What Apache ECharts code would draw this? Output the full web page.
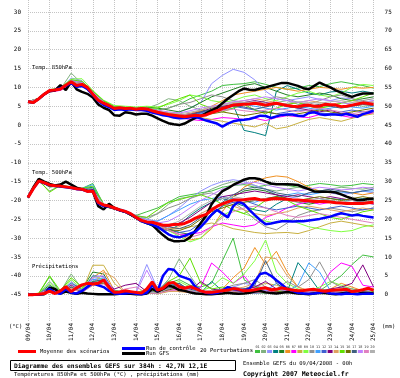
<!DOCTYPE html>
<html>
<head>
<meta charset="utf-8">
<script src="https://cdn.jsdelivr.net/npm/echarts@6/dist/echarts.min.js"></script>
<style>
  html, body { margin: 0; padding: 0; background: #fff; }
  #chart { width: 400px; height: 378px; }
</style>
</head>
<body>
<div id="chart"></div>
<script>
// --- axes / labels ---
var dayLabels = ['09/04','10/04','11/04','12/04','13/04','14/04','15/04','16/04','17/04',
  '18/04','19/04','20/04','21/04','22/04','23/04','24/04','25/04'];
var tempTicks = [30,25,20,15,10,5,0,-5,-10,-15,-20,-25,-30,-35,-40,-45];
var precTicks = [75,70,65,60,55,50,45,40,35,30,25,20,15,10,5,0];

// --- thick lines, 6h steps (°C / mm) ---
var t850Mean = [6.2,6.0,7.0,8.2,9.2,9.3,9.6,10.6,11.5,10.5,
  10.8,10.0,8.2,6.6,5.8,5.2,4.4,4.6,4.4,4.5,
  4.2,4.4,4.3,3.8,3.4,3.1,2.8,2.6,2.4,2.2,
  2.4,2.6,2.5,2.7,3.3,3.8,4.4,4.8,5.3,5.4,
  5.5,5.6,5.8,5.6,5.3,5.6,5.8,5.5,5.2,5.0,
  4.9,5.2,5.3,5.0,5.0,5.5,5.4,5.3,4.9,5.0,
  5.3,5.6,5.9,5.7,5.5];
var t850Ctrl = [6.2,6.0,7.0,8.2,9.1,9.3,9.8,10.4,11.2,10.2,
  10.4,9.6,8.0,6.4,5.4,4.8,4.0,4.2,4.0,4.2,
  4.0,4.0,3.8,3.3,3.0,2.6,2.4,2.0,1.8,1.9,
  2.1,2.2,1.7,1.2,0.8,0.4,-0.4,0.4,1.0,1.3,
  1.4,1.6,2.0,2.5,2.4,1.9,2.3,2.7,2.8,2.8,
  2.5,2.4,3.2,3.4,2.9,2.7,2.8,2.8,2.7,3.0,
  2.6,2.2,2.9,3.3,3.9];
var t850Gfs = [6.2,6.0,7.0,8.2,9.0,9.2,10.6,9.3,11.5,9.5,
  8.8,8.3,7.3,5.5,4.6,4.0,2.6,2.5,3.4,3.2,
  2.8,3.0,3.0,2.5,1.8,1.1,0.5,0.2,0.0,0.4,
  1.2,1.9,2.4,3.2,3.9,4.6,5.8,7.0,8.0,9.0,
  9.7,9.4,9.3,9.7,10.0,10.4,10.8,11.2,11.2,10.8,
  10.4,9.8,9.5,10.4,11.3,10.6,10.0,9.2,8.6,8.0,
  7.5,8.0,8.4,8.4,8.4];

var t500Mean = [-19.2,-16.8,-14.8,-15.3,-15.9,-16.1,-16.2,-16.4,-16.6,-16.9,
  -17.0,-17.6,-17.5,-20.5,-21.2,-21.5,-22.0,-22.5,-22.9,-23.5,
  -24.5,-25.3,-25.7,-25.8,-26.2,-26.6,-26.6,-26.4,-26.3,-26.1,
  -25.5,-24.7,-24.2,-23.7,-22.5,-21.6,-20.9,-20.4,-19.9,-19.9,
  -19.8,-19.6,-19.5,-19.8,-19.9,-19.6,-19.5,-19.6,-19.7,-19.9,
  -19.9,-20.0,-20.1,-20.3,-20.3,-20.3,-20.4,-20.6,-20.7,-20.8,
  -20.8,-20.8,-20.8,-20.6,-20.5];
var t500Ctrl = [-19.2,-16.8,-14.9,-15.4,-16.0,-16.2,-16.3,-16.5,-16.7,-17.0,
  -17.1,-17.6,-17.3,-20.8,-21.5,-21.6,-22.1,-22.6,-23.0,-23.6,
  -24.6,-25.5,-26.0,-26.4,-27.0,-28.0,-29.0,-29.6,-29.8,-29.4,
  -28.8,-28.3,-27.0,-25.5,-23.8,-22.5,-23.5,-24.5,-21.5,-20.3,
  -21.0,-22.5,-23.9,-25.2,-26.3,-26.1,-25.8,-25.5,-25.5,-25.6,
  -25.5,-25.5,-25.3,-25.1,-24.9,-24.6,-24.3,-23.8,-23.4,-23.7,
  -24.0,-23.8,-24.1,-24.3,-24.5];
var t500Gfs = [-19.2,-16.5,-14.3,-15.0,-15.6,-16.0,-15.8,-15.0,-15.8,-16.6,
  -17.1,-17.4,-17.6,-21.5,-22.4,-20.9,-22.0,-22.6,-23.0,-23.7,
  -24.6,-25.5,-26.0,-26.5,-27.9,-29.2,-30.3,-30.8,-30.8,-30.7,
  -29.8,-28.0,-26.0,-24.0,-21.0,-19.0,-17.5,-16.8,-15.9,-15.2,
  -14.5,-14.1,-14.1,-14.4,-15.0,-15.5,-15.7,-15.7,-15.7,-15.8,
  -15.9,-16.5,-17.0,-17.6,-17.7,-17.7,-17.7,-17.9,-18.4,-19.0,
  -19.5,-19.9,-19.9,-19.6,-19.5];

var precMean = [0,0,0.1,0.3,0.9,0.3,1.0,2.1,0.8,1.8,
  2.6,3.0,2.8,3.0,3.9,1.9,0.6,0.7,1.0,0.8,
  0.6,0.4,1.5,3.4,1.2,1.7,3.0,3.2,2.1,1.7,
  2.1,1.6,1.0,0.6,0.6,0.8,1.0,1.2,1.6,1.4,
  1.0,1.1,1.3,1.6,1.8,1.3,1.4,1.8,1.5,1.2,
  1.0,1.1,1.3,1.4,1.1,0.9,1.1,1.2,1.3,1.4,
  0.8,1.0,1.3,1.7,1.1];
var precCtrl = [0,0,0,0.2,1.5,0.5,0.2,1.5,0.5,0.3,
  1.0,2.0,3.0,2.5,2.0,1.0,0.3,0.2,0.3,0.5,
  0.2,0.1,0.5,2.5,1.0,5.0,6.8,6.6,5.0,4.5,
  4.0,2.0,1.0,0.5,0.3,0.4,1.0,2.0,1.5,1.2,
  1.0,1.5,3.5,5.5,5.8,5.0,3.8,2.7,1.5,1.0,
  0.5,0.3,0.2,0.3,0.5,0.8,0.3,0.2,0.1,0.3,
  0.2,0.1,0.2,0.3,0.2];
var precGfs = [0,0,0,0.1,1.8,1.5,0.3,0.8,0.5,0.2,
  0.5,0.3,0.2,0.1,0.1,0.1,0.1,0.2,0.3,0.2,
  0.1,0.1,0.3,1.5,0.8,1.5,2.5,2.0,1.2,1.0,
  0.6,0.3,0.2,0.1,0.1,0.2,0.3,0.5,0.3,0.2,
  0.3,0.5,0.8,1.0,0.6,0.4,0.3,0.5,0.7,0.5,
  0.3,0.2,0.1,0.3,0.5,0.4,0.2,0.1,0.3,0.5,
  0.3,0.2,0.5,0.4,0.3];

// --- 20 perturbations, 12h steps ---
var pertColors = ['#40c040','#80b080','#9090ff','#008080','#208020','#f09020','#ff00ff','#c8b040','#80ff40','#909090',
  '#40a0ff','#4060d0','#800080','#e0a060','#60e000','#707000','#406080','#c080ff','#e080c0','#b0b0b0'];

var t850Perts = [
  [6.2,7.1,9.3,9.8,12.0,11.5,9.0,6.5, 5.0,4.8,4.5,4.6,4.0,4.5,5.5,7.0, 8.0,9.0,10.5,10.8,11.0,11.5,10.8,10.0, 9.5,9.8,10.5,10.2,11.0,11.5,11.0,10.5,9.8],
  [6.2,7.0,9.0,9.5,13.8,11.0,8.5,6.0, 4.6,4.2,4.0,4.5,5.5,7.0,6.5,5.0, 4.0,3.5,4.5,5.8,6.0,5.5,5.0,6.0, 6.5,5.5,5.0,4.5,5.2,6.0,5.5,5.0,5.3],
  [6.2,7.0,9.2,9.4,12.5,11.8,8.8,6.2, 4.5,4.5,4.3,4.0,3.2,2.8,3.5,4.5, 6.0,11.0,13.2,14.8,14.0,12.0,9.0,7.0, 6.5,7.0,7.5,6.8,6.5,7.2,7.0,6.0,6.5],
  [6.2,7.0,9.1,9.5,11.0,10.5,8.0,5.5, 4.0,4.2,4.0,4.0,3.0,2.5,2.0,2.5, 3.5,4.0,5.0,5.3,-1.4,-2.0,-2.8,9.0, 10.5,9.5,8.5,8.0,8.8,9.0,8.5,9.0,8.5],
  [6.2,7.0,9.3,9.7,11.8,11.2,8.5,6.0, 4.8,4.5,4.5,4.8,4.5,4.0,3.5,4.5, 6.0,7.5,8.5,9.5,10.5,11.0,10.0,9.0, 8.0,7.5,8.0,8.5,8.0,7.0,6.5,7.0,7.5],
  [6.2,7.0,9.0,9.4,11.2,10.8,8.2,5.6, 4.2,4.3,4.4,4.2,3.5,3.0,2.6,3.0, 3.8,5.0,6.5,8.0,8.5,9.0,9.5,10.0, 9.5,9.0,9.5,10.0,9.8,9.5,10.0,9.8,10.0],
  [6.2,6.9,8.8,9.2,10.8,10.5,8.0,5.4, 4.0,4.2,4.0,4.0,3.2,2.5,2.0,1.5, 1.2,1.5,2.0,1.8,1.5,1.8,1.2,2.0, 2.5,2.2,2.0,2.8,3.0,2.5,2.0,2.8,3.2],
  [6.2,7.0,9.2,9.5,11.5,11.0,8.4,5.9, 4.4,4.4,4.2,4.3,3.6,3.2,2.8,2.5, 2.0,1.5,1.0,0.5,0.0,-0.5,0.5,-1.0, -0.5,0.5,1.5,2.0,1.5,1.0,1.8,2.5,3.0],
  [6.2,7.1,9.4,9.9,12.2,12.3,9.2,6.6, 5.2,5.0,4.8,5.0,4.8,5.5,6.5,8.0, 7.5,6.5,6.0,6.5,7.5,8.0,7.0,6.5, 7.5,8.5,9.0,8.0,7.5,8.5,10.0,10.8,10.5],
  [6.2,7.0,9.1,9.6,11.3,10.9,8.3,5.8, 4.3,4.4,4.3,4.4,3.8,4.5,5.5,6.0, 7.0,8.0,7.5,6.5,6.0,5.5,6.5,7.5, 7.0,6.0,5.5,6.5,7.5,8.0,7.0,6.5,7.0],
  [6.2,7.0,9.2,9.6,11.6,11.0,8.3,5.8, 4.5,4.4,4.2,4.2,3.5,3.0,2.5,2.8, 3.0,3.5,4.0,4.5,5.5,5.0,4.5,4.0, 4.5,5.0,4.5,4.0,4.5,5.0,4.8,4.5,5.0],
  [6.2,7.0,9.3,9.6,11.4,10.8,8.1,5.6, 4.2,4.3,4.1,4.2,3.3,2.8,2.2,2.5, 3.2,4.0,4.5,5.0,4.5,4.0,3.5,3.0, 3.5,4.0,3.8,3.2,3.0,3.5,4.0,3.5,3.8],
  [6.2,7.0,9.2,9.5,11.6,11.1,8.5,6.0, 4.6,4.5,4.3,4.4,3.6,3.0,2.6,3.0, 3.5,4.5,5.0,5.5,6.0,6.5,6.0,5.5, 5.0,4.5,4.0,3.5,4.0,3.0,2.5,3.0,3.5],
  [6.2,7.0,9.1,9.5,11.4,10.9,8.2,5.7, 4.3,4.4,4.2,4.3,3.5,3.0,2.5,3.0, 4.0,4.8,5.5,6.0,6.5,7.0,6.5,6.0, 5.5,6.0,6.5,6.0,5.5,6.0,6.5,6.0,6.2],
  [6.2,7.1,9.3,9.8,12.0,11.6,9.0,6.4, 4.8,4.6,4.4,4.5,4.5,5.8,7.0,8.0, 5.5,4.5,3.5,4.5,5.5,4.0,3.0,4.5, 5.5,6.0,5.0,4.5,5.0,5.8,6.5,7.5,8.5],
  [6.2,7.0,9.2,9.5,11.5,11.0,8.4,5.8, 4.4,4.3,4.1,4.1,3.4,2.9,2.4,2.2, 2.5,3.0,3.5,3.0,2.5,3.0,3.5,3.0, 2.5,3.0,3.5,4.0,3.5,3.0,3.5,4.0,4.5],
  [6.2,7.0,9.0,9.3,11.2,10.6,8.0,5.5, 4.1,4.2,4.0,4.1,3.3,2.7,2.3,2.8, 3.5,4.2,4.8,5.2,4.8,4.2,4.8,5.5, 5.0,4.5,5.0,5.5,5.0,4.5,5.0,5.5,5.2],
  [6.2,7.0,9.2,9.7,11.8,11.3,8.7,6.1, 4.7,4.6,4.4,4.5,3.9,3.5,3.2,3.8, 4.5,5.0,5.5,6.2,6.5,7.0,7.5,7.0, 6.5,6.0,6.5,7.0,6.5,6.0,5.5,6.0,6.5],
  [6.2,7.0,9.1,9.6,11.3,10.8,8.2,5.7, 4.3,4.3,4.1,4.3,3.6,3.1,2.7,2.6, 2.8,3.2,3.8,4.2,3.8,3.5,4.0,4.5, 4.0,3.5,4.0,4.5,4.0,3.5,3.0,3.5,4.0],
  [6.2,7.0,9.2,9.6,11.6,11.0,8.4,5.9, 4.5,4.4,4.2,4.3,3.7,3.3,3.0,3.4, 4.0,4.8,5.2,5.8,6.0,6.2,5.8,5.5, 5.8,6.2,6.0,5.8,6.2,6.5,6.0,6.3,6.0]
];

var t500Perts = [
  [-19.2,-14.6,-16.5,-16.0,-16.5,-16.8,-15.5,-21.0, -21.8,-22.8,-24.0,-23.0,-22.0,-20.5,-19.0,-18.5, -18.0,-17.5,-16.5,-16.0,-15.8,-16.5,-16.0,-15.5, -16.0,-16.5,-16.0,-15.5,-15.8,-16.2,-16.0,-15.5,-15.8],
  [-19.2,-14.9,-17.5,-16.0,-16.5,-17.0,-16.8,-21.3, -22.2,-23.0,-24.5,-25.0,-23.5,-21.0,-19.5,-19.0, -18.5,-17.0,-15.8,-15.0,-15.5,-16.0,-17.0,-17.5, -17.0,-16.5,-17.0,-17.5,-17.0,-16.5,-16.8,-17.0,-16.5],
  [-19.2,-14.8,-15.8,-16.2,-16.3,-16.8,-17.3,-21.0, -21.8,-22.6,-24.0,-25.0,-25.5,-24.0,-22.0,-19.5, -17.5,-16.0,-15.0,-14.5,-15.0,-16.0,-17.0,-18.5, -19.5,-19.0,-18.0,-17.5,-18.0,-18.5,-18.0,-17.5,-18.0],
  [-19.2,-14.7,-16.0,-16.3,-16.4,-16.9,-16.5,-21.5, -22.3,-23.2,-24.8,-26.2,-27.5,-28.0,-26.5,-24.0, -22.0,-20.5,-19.5,-20.5,-21.5,-22.5,-23.0,-21.0, -19.5,-20.0,-20.5,-20.0,-19.5,-19.8,-20.0,-19.5,-19.8],
  [-19.2,-15.0,-16.2,-16.0,-16.8,-17.2,-17.5,-21.6, -22.3,-23.2,-24.8,-26.0,-27.0,-27.8,-28.5,-29.0, -27.0,-24.0,-21.5,-19.0,-17.5,-17.0,-17.5,-18.5, -19.5,-20.5,-21.0,-20.5,-20.0,-20.5,-21.0,-20.5,-20.0],
  [-19.2,-14.7,-15.9,-16.4,-16.7,-17.0,-17.6,-21.2, -22.0,-23.0,-24.6,-26.0,-27.0,-28.0,-29.0,-30.5, -30.0,-27.5,-23.0,-19.0,-16.5,-15.0,-14.0,-13.5, -13.8,-15.0,-16.5,-17.5,-18.0,-17.5,-18.0,-18.5,-18.0],
  [-19.2,-14.9,-16.0,-16.3,-16.5,-17.0,-17.5,-21.3, -22.1,-23.1,-24.7,-26.0,-27.0,-28.0,-29.0,-29.0, -28.5,-27.0,-26.0,-26.5,-27.0,-26.5,-24.5,-23.5, -22.0,-21.0,-20.3,-21.0,-20.5,-20.8,-21.0,-20.5,-20.8],
  [-19.2,-14.8,-16.1,-16.2,-16.6,-17.0,-17.7,-21.0, -21.9,-22.9,-24.4,-25.8,-26.8,-27.5,-27.5,-27.0, -26.5,-26.0,-26.5,-27.5,-28.0,-28.5,-28.8,-28.6, -28.5,-28.8,-28.0,-27.0,-26.0,-25.5,-26.0,-26.5,-27.0],
  [-19.2,-14.8,-16.0,-16.2,-16.6,-17.0,-17.4,-21.2, -22.0,-22.8,-24.5,-25.8,-26.8,-28.0,-29.5,-31.0, -30.0,-27.0,-24.0,-22.5,-23.5,-24.5,-25.5,-26.0, -25.0,-26.0,-27.0,-27.5,-28.0,-28.3,-28.0,-27.0,-26.5],
  [-19.2,-14.9,-16.2,-16.1,-16.5,-16.9,-17.2,-21.1, -21.9,-22.8,-24.0,-24.5,-23.5,-22.0,-21.0,-19.5, -18.5,-18.0,-19.0,-20.5,-22.5,-25.0,-27.0,-27.8, -26.0,-24.0,-23.0,-22.5,-22.0,-22.5,-23.0,-22.5,-22.0],
  [-19.2,-14.7,-16.1,-16.4,-16.4,-16.8,-15.8,-21.4, -22.0,-22.9,-24.6,-25.5,-25.5,-24.0,-22.5,-21.0, -20.0,-19.5,-19.0,-19.5,-20.0,-20.5,-19.5,-19.0, -18.5,-18.0,-18.5,-18.0,-17.5,-17.8,-18.0,-17.5,-17.5],
  [-19.2,-14.8,-16.0,-16.3,-16.7,-17.1,-17.5,-21.4, -22.2,-23.0,-24.6,-25.8,-26.5,-27.5,-28.5,-28.0, -26.0,-23.5,-21.5,-20.5,-20.0,-21.0,-22.0,-22.5, -22.0,-21.5,-22.0,-22.5,-22.0,-21.5,-22.0,-22.5,-22.0],
  [-19.2,-14.8,-16.1,-16.2,-16.6,-16.9,-17.4,-21.2, -22.0,-22.9,-24.4,-25.6,-26.4,-27.0,-26.0,-24.5, -22.5,-20.5,-19.0,-18.5,-18.0,-17.5,-18.0,-18.5, -19.0,-18.5,-19.0,-19.5,-19.0,-19.5,-20.0,-20.5,-21.0],
  [-19.2,-14.8,-16.0,-16.3,-16.6,-17.1,-17.6,-21.2, -22.1,-23.0,-24.6,-25.9,-26.8,-27.5,-27.0,-25.5, -23.5,-22.0,-21.0,-21.5,-22.5,-23.5,-24.0,-23.5, -23.0,-22.0,-21.5,-22.0,-22.5,-23.0,-22.5,-22.0,-22.5],
  [-19.2,-14.6,-17.8,-16.0,-16.4,-16.8,-16.2,-21.0, -21.8,-22.8,-24.2,-24.5,-22.5,-20.5,-19.8,-19.0, -18.5,-19.5,-21.0,-22.5,-23.5,-22.0,-20.0,-19.0, -20.0,-21.5,-22.5,-23.5,-24.5,-25.0,-24.0,-23.0,-22.5],
  [-19.2,-14.9,-16.2,-16.2,-16.7,-17.1,-17.6,-21.5, -22.3,-23.2,-24.8,-26.0,-27.0,-27.8,-28.0,-27.0, -25.0,-23.0,-22.0,-21.0,-20.5,-20.0,-19.5,-19.0, -19.5,-20.0,-19.5,-19.0,-19.5,-20.0,-19.5,-19.0,-19.5],
  [-19.2,-14.7,-16.0,-16.4,-16.6,-17.0,-17.3,-21.3, -22.0,-23.0,-24.5,-25.6,-26.4,-27.0,-27.5,-26.5, -24.5,-22.5,-20.5,-18.5,-17.0,-16.5,-17.0,-18.0, -18.5,-19.0,-18.0,-17.5,-17.0,-17.5,-18.0,-17.5,-17.0],
  [-19.2,-14.8,-15.9,-16.2,-16.5,-16.9,-17.3,-21.1, -21.9,-22.8,-24.3,-25.4,-26.0,-25.5,-24.0,-22.0, -20.0,-18.5,-17.0,-16.0,-15.5,-15.2,-15.8,-16.5, -17.0,-17.5,-17.0,-16.5,-16.8,-17.2,-17.0,-16.5,-16.8],
  [-19.2,-14.8,-16.0,-16.3,-16.6,-17.0,-17.5,-21.3, -22.1,-23.0,-24.6,-25.9,-26.8,-27.8,-29.0,-29.8, -29.0,-27.0,-24.5,-23.0,-22.0,-21.5,-22.0,-23.0, -24.0,-24.5,-24.0,-23.5,-24.0,-24.5,-25.0,-25.5,-26.0],
  [-19.2,-14.8,-16.1,-16.2,-16.5,-16.9,-17.4,-21.2, -22.0,-22.9,-24.5,-25.7,-26.5,-26.5,-25.5,-23.5, -21.5,-20.0,-19.5,-19.0,-19.5,-20.0,-19.5,-19.5, -20.0,-20.5,-20.0,-19.5,-20.0,-20.5,-20.0,-20.5,-20.0]
];

var precPerts = [
  [0,0.3,4.8,0.5,3.0,1.0,2.5,3.0, 0.5,0.8,0.3,0.5,0.5,3.0,4.0,2.5, 2.0,3.0,9.0,15.0,4.0,2.0,1.5,1.0, 2.0,1.0,0.5,1.0,3.0,5.0,8.0,10.5,10.0],
  [0,0.2,3.5,0.8,5.5,1.5,3.0,3.5, 1.0,0.5,0.4,0.8,1.0,4.0,9.5,5.0, 1.0,0.5,1.0,0.5,0.8,1.5,1.0,0.5, 0.8,0.5,0.3,0.5,0.8,0.5,1.0,0.5,0.8],
  [0,0.1,1.5,0.5,3.5,1.2,4.0,4.5, 0.8,0.5,0.8,8.0,1.5,3.5,2.5,1.5, 1.0,0.8,1.5,2.0,3.0,2.5,1.5,1.0, 0.8,0.5,1.0,1.5,1.0,0.8,0.5,0.8,1.0],
  [0,0.2,1.8,0.6,2.5,1.0,3.5,4.0, 1.0,0.6,0.4,1.0,0.5,2.5,3.0,1.0, 0.5,3.5,1.0,0.8,1.0,0.5,0.8,1.5, 0.8,8.5,5.0,1.0,0.5,0.8,1.0,0.5,0.8],
  [0,0.3,2.5,0.8,3.0,1.5,6.0,5.5, 0.5,0.3,0.5,0.8,0.4,1.5,2.0,1.0, 0.4,0.3,0.5,0.4,0.3,0.5,0.4,0.6, 0.5,0.8,0.5,0.4,0.6,0.5,0.4,0.5,0.8],
  [0,0.2,2.0,0.5,2.8,1.2,4.5,6.5, 1.0,0.5,0.3,1.5,0.5,2.0,1.5,1.0, 0.5,0.8,1.5,4.5,7.0,12.5,8.0,11.5, 6.0,2.0,1.0,0.5,1.5,3.0,2.0,1.0,1.5],
  [0,0.2,1.5,0.4,2.0,0.8,3.0,3.5, 0.5,0.3,0.5,0.8,0.3,1.0,1.5,0.5, 2.0,8.4,6.0,3.0,5.0,1.5,1.0,0.8, 1.0,0.5,0.8,1.5,6.0,8.4,7.5,2.5,2.0],
  [0,0.1,1.0,0.3,1.5,0.8,7.8,7.8, 3.0,0.5,0.3,0.5,0.2,0.8,1.0,0.5, 0.3,0.5,0.8,1.0,1.5,2.0,3.0,2.5, 1.5,1.0,0.5,0.8,1.0,0.5,0.8,1.0,0.5],
  [0,0.3,3.0,0.6,4.0,1.5,5.0,4.0, 0.8,0.5,0.5,1.0,0.8,2.5,3.5,2.0, 1.0,2.0,4.5,3.0,5.5,9.0,14.5,6.0, 3.0,1.5,1.0,2.0,3.5,2.5,1.5,1.0,1.5],
  [0,0.2,1.5,0.5,2.5,1.0,3.5,3.0, 0.6,0.4,0.4,1.0,0.5,1.5,2.0,1.0, 0.8,1.0,1.5,2.5,3.0,4.0,2.0,1.5, 3.5,2.0,4.0,8.7,3.5,2.0,1.5,1.0,0.8],
  [0,0.2,2.2,0.6,3.0,1.2,4.0,4.2, 1.2,0.5,0.3,0.8,0.5,3.0,2.0,1.5, 0.5,0.8,1.0,2.0,1.5,1.0,1.0,3.0, 1.0,2.5,8.4,6.0,1.0,0.5,0.8,1.0,0.5],
  [0,0.1,1.2,0.4,2.0,0.8,5.0,4.8, 0.8,0.4,0.3,0.6,0.3,1.5,2.5,1.5, 0.5,0.4,0.6,0.8,0.5,0.4,0.6,0.5, 0.8,0.5,0.4,0.5,0.3,0.4,0.5,0.4,0.3],
  [0,0.2,1.8,0.5,2.5,1.0,3.0,3.5, 1.5,2.5,3.0,0.8,0.5,2.0,1.5,1.0, 3.5,1.5,1.0,0.8,1.5,2.0,3.5,1.5, 1.0,0.8,0.5,1.0,1.5,2.0,3.0,7.9,2.0],
  [0,0.1,1.0,0.3,1.8,0.6,2.5,6.0, 4.5,0.5,0.3,0.5,0.3,1.0,0.8,0.5, 0.3,0.5,1.0,1.5,2.0,3.0,10.0,9.5, 5.0,2.0,1.0,0.5,0.8,1.0,0.5,0.8,1.0],
  [0,0.4,5.0,1.0,4.5,2.0,3.5,3.0, 1.0,0.8,0.5,1.5,1.0,3.5,5.0,9.7, 3.0,1.5,2.0,1.5,1.0,0.8,1.5,1.0, 0.5,0.8,1.0,0.5,1.0,1.5,1.0,0.5,0.8],
  [0,0.2,1.5,0.4,2.2,0.8,3.0,3.0, 0.5,0.3,0.3,0.6,0.4,1.2,2.0,0.8, 0.4,0.6,0.8,0.5,1.0,0.8,0.5,0.8, 1.5,0.8,0.5,0.8,0.5,0.4,0.6,0.5,0.4],
  [0,0.1,1.3,0.4,2.0,0.9,3.5,3.8, 0.7,0.4,0.3,0.7,0.4,1.8,3.0,1.2, 0.6,0.5,0.8,1.0,1.5,2.5,9.0,3.0, 1.0,0.8,0.5,1.5,1.0,0.5,0.8,0.5,0.6],
  [0,0.2,1.6,0.5,2.8,1.0,4.5,5.0, 0.9,0.5,0.4,6.5,1.0,2.2,1.8,1.0, 0.5,0.6,1.0,1.8,1.2,0.8,1.2,1.5, 1.0,0.6,0.8,1.2,0.8,0.6,1.0,0.8,1.2],
  [0,0.1,1.0,0.3,1.5,0.6,2.5,2.8, 0.5,1.5,2.0,0.5,0.3,1.0,1.2,0.5, 0.3,0.4,0.6,0.8,0.6,0.5,0.8,0.6, 0.5,0.4,0.6,0.8,0.5,0.4,0.6,0.5,0.4],
  [0,0.2,1.4,0.4,2.3,0.9,3.2,3.4, 0.7,0.4,0.3,0.8,0.4,1.6,2.2,1.2, 0.5,0.6,0.8,1.0,1.2,1.0,1.5,1.2, 0.8,0.6,1.0,1.5,1.0,0.8,0.6,0.8,0.6]
];

var mono = '"DejaVu Sans Mono", "Liberation Mono", monospace';
var gridColor = '#c4c4c4';

function toPoints(values, step) {
  return values.map(function(v, i) { return [i * step, v]; });
}

function line(values, step, color, width, axis, z) {
  return {
    type: 'line',
    yAxisIndex: axis,
    data: toPoints(values, step),
    showSymbol: false,
    silent: true,
    z: z,
    lineStyle: { color: color, width: width }
  };
}

var series = [];

pertColors.forEach(function(c, k) {
  series.push(line(t850Perts[k], 12, c, 1, 0, 2));
  series.push(line(t500Perts[k], 12, c, 1, 0, 2));
  series.push(line(precPerts[k], 12, c, 1, 1, 2));
});

series.push(line(t850Gfs, 6, '#000000', 2.5, 0, 3));
series.push(line(t500Gfs, 6, '#000000', 2.5, 0, 3));
series.push(line(precGfs, 6, '#000000', 2.5, 1, 3));
series.push(line(t850Ctrl, 6, '#0000ff', 2.5, 0, 4));
series.push(line(t500Ctrl, 6, '#0000ff', 2.5, 0, 4));
series.push(line(precCtrl, 6, '#0000ff', 2.5, 1, 4));

var meanLine = line(t850Mean, 6, '#ff0000', 3, 0, 5);
// horizontal dotted grid at the labelled temperatures
meanLine.markLine = {
  silent: true,
  symbol: 'none',
  z: 1,
  label: { show: false },
  lineStyle: { color: gridColor, type: 'dotted', width: 1 },
  data: tempTicks.map(function(v) { return { yAxis: v }; })
};
series.push(meanLine);
series.push(line(t500Mean, 6, '#ff0000', 3, 0, 5));
series.push(line(precMean, 6, '#ff0000', 3, 1, 5));

function txt(s, x, y, size, bold) {
  return {
    type: 'text', silent: true, z: 10,
    style: {
      text: s, x: x, y: y, fill: '#000',
      font: (bold ? 'bold ' : '') + size + 'px ' + mono,
      verticalAlign: 'middle'
    }
  };
}

var graphics = [
  txt('Temp. 850hPa', 32, 68, 5.5),
  txt('Temp. 500hPa', 32, 173, 5.5),
  txt('Précipitations', 32, 267, 5.5),
  txt('(°C)', 9, 327, 5.5),
  txt('(mm)', 382, 327, 5.5),
  { type: 'line', silent: true, shape: { x1: 18, y1: 351.5, x2: 36, y2: 351.5 }, style: { stroke: '#ff0000', lineWidth: 3 } },
  txt('Moyenne des scénarios', 40, 351.5, 5.5),
  { type: 'line', silent: true, shape: { x1: 122, y1: 348.5, x2: 145, y2: 348.5 }, style: { stroke: '#0000ff', lineWidth: 3 } },
  txt('Run de contrôle', 146, 348.5, 5.5),
  { type: 'line', silent: true, shape: { x1: 122, y1: 353.5, x2: 145, y2: 353.5 }, style: { stroke: '#000000', lineWidth: 3 } },
  txt('Run GFS', 146, 354, 5.5),
  txt('20 Perturbations', 200, 351, 5.5),
  { type: 'rect', silent: true, shape: { x: 10.5, y: 360.5, width: 225, height: 10 }, style: { fill: '#fff', stroke: '#000', lineWidth: 1 } },
  txt('Diagramme des ensembles GEFS sur 384h : 42,7N 12,1E', 14, 366, 6.3, true),
  txt('Températures 850hPa et 500hPa (°C) , précipitations (mm)', 14, 374.5, 5.5),
  txt('Ensemble GEFS du 09/04/2008 - 00h', 243, 363.5, 5.5),
  txt('Copyright 2007 Meteociel.fr', 243, 374, 6.5, true)
];

pertColors.forEach(function(c, k) {
  var x = 255 + k * 6.05;
  var num = (k < 9 ? '0' : '') + (k + 1);
  graphics.push({
    type: 'text', silent: true,
    style: { text: num, x: x + 2.5, y: 347, fill: '#333', font: '3.5px ' + mono, align: 'center', verticalAlign: 'middle' }
  });
  graphics.push({
    type: 'rect', silent: true,
    shape: { x: x, y: 350, width: 5, height: 3 },
    style: { fill: c }
  });
});

var chart = echarts.init(document.getElementById('chart'), null, { renderer: 'canvas' });

chart.setOption({
  animation: false,
  backgroundColor: '#ffffff',
  grid: { left: 28, right: 26.4, top: 0, bottom: 57 },
  xAxis: {
    type: 'value',
    min: 0,
    max: 384,
    interval: 24,
    axisLine: { show: false },
    axisTick: { show: false },
    splitLine: { show: true, lineStyle: { color: gridColor, type: 'dotted', width: 1 } },
    axisLabel: {
      rotate: 90,
      margin: 2,
      color: '#000',
      fontSize: 6,
      fontFamily: mono,
      formatter: function(v) { return dayLabels[Math.round(v / 24)] || ''; }
    }
  },
  yAxis: [{
    type: 'value',
    position: 'left',
    min: -52,
    max: 33.2,
    axisLine: { show: false },
    axisTick: { show: false, customValues: tempTicks },
    splitLine: { show: false },
    axisLabel: {
      customValues: tempTicks,
      margin: 7,
      color: '#000',
      fontSize: 6,
      fontFamily: mono
    }
  }, {
    type: 'value',
    position: 'right',
    min: -7,
    max: 78.2,
    axisLine: { show: false },
    axisTick: { show: false, customValues: precTicks },
    splitLine: { show: false },
    axisLabel: {
      customValues: precTicks,
      margin: 11,
      color: '#000',
      fontSize: 6,
      fontFamily: mono
    }
  }],
  series: series,
  graphic: graphics
});
</script>
</body>
</html>
